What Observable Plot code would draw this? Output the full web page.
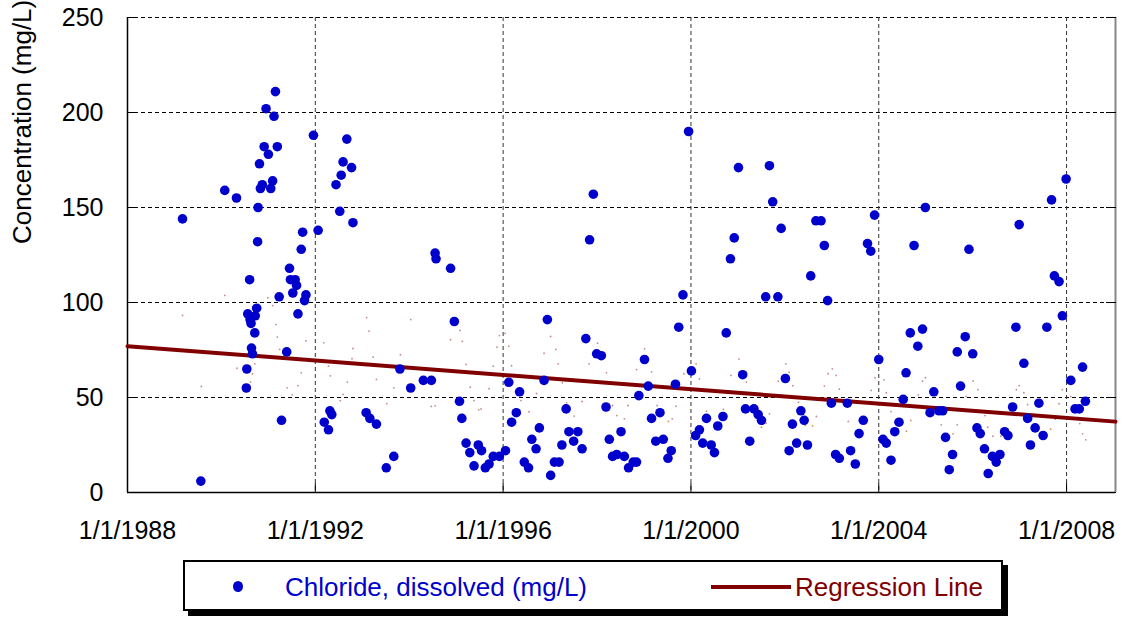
<!DOCTYPE html>
<html><head><meta charset="utf-8">
<script src="https://cdn.jsdelivr.net/npm/d3@7"></script>
<script src="https://cdn.jsdelivr.net/npm/@observablehq/plot@0.6"></script>
<style>
body{margin:0;background:#fff;font-family:Arial,"Liberation Sans",sans-serif;}
#chart{position:absolute;left:0;top:0;}
#legend{position:absolute;left:183px;top:560px;width:816px;height:47px;border:2px solid #000;box-shadow:5px 5px 0 #000;background:#fff;}
#legend .it{position:absolute;white-space:nowrap;font-size:26px;line-height:30px;top:10px;}
</style></head><body>
<div id="chart"></div>
<div id="legend"></div>
<script>
// Sample dates as decimal years and chloride values (mg/L)
const sampleYears = [1989.17,1989.56,1990.07,1990.32,1990.53,1990.54,1990.56,1990.60,1990.61,1990.63,1990.64,1990.66,1990.71,1990.72,1990.75,1990.77,1990.78,1990.81,1990.83,1990.87,1990.91,1990.95,1991.00,1991.05,1991.09,1991.12,1991.15,1991.19,1991.23,1991.28,1991.39,1991.45,1991.47,1991.52,1991.57,1991.60,1991.63,1991.70,1991.73,1991.77,1991.80,1991.96,1992.06,1992.19,1992.28,1992.31,1992.35,1992.44,1992.52,1992.55,1992.59,1992.67,1992.77,1992.80,1993.08,1993.16,1993.30,1993.51,1993.67,1993.80,1994.03,1994.30,1994.47,1994.55,1994.57,1994.88,1994.96,1995.07,1995.12,1995.21,1995.29,1995.38,1995.47,1995.54,1995.62,1995.70,1995.79,1995.92,1996.05,1996.12,1996.18,1996.28,1996.35,1996.45,1996.54,1996.61,1996.70,1996.77,1996.87,1996.94,1997.01,1997.09,1997.19,1997.25,1997.34,1997.40,1997.50,1997.59,1997.68,1997.76,1997.84,1997.92,1997.99,1998.09,1998.19,1998.26,1998.33,1998.42,1998.51,1998.58,1998.67,1998.77,1998.84,1998.89,1999.01,1999.09,1999.16,1999.25,1999.34,1999.41,1999.51,1999.58,1999.67,1999.74,1999.83,1999.95,2000.01,2000.10,2000.18,2000.25,2000.33,2000.43,2000.50,2000.57,2000.68,2000.75,2000.84,2000.92,2001.01,2001.10,2001.16,2001.25,2001.34,2001.43,2001.50,2001.59,2001.67,2001.74,2001.85,2001.92,2002.01,2002.09,2002.16,2002.25,2002.34,2002.41,2002.48,2002.55,2002.66,2002.77,2002.84,2002.91,2002.99,2003.08,2003.16,2003.33,2003.40,2003.50,2003.58,2003.67,2003.76,2003.83,2003.91,2004.00,2004.09,2004.16,2004.26,2004.34,2004.43,2004.52,2004.58,2004.67,2004.75,2004.83,2004.93,2004.99,2005.09,2005.17,2005.28,2005.36,2005.42,2005.50,2005.57,2005.67,2005.74,2005.84,2005.92,2006.00,2006.09,2006.16,2006.25,2006.33,2006.42,2006.50,2006.58,2006.68,2006.75,2006.85,2006.92,2006.99,2007.09,2007.17,2007.23,2007.33,2007.41,2007.50,2007.58,2007.68,2007.74,2007.84,2007.91,2007.99,2008.09,2008.18,2008.27,2008.34,2008.40];
const chloride = [144,6,159,155,55,65,94,112,91,89,76,73,84,93,97,132,150,173,160,162,182,202,178,160,164,198,211,182,103,38,74,118,112,105,112,109,94,128,137,101,104,188,138,37,33,43,41,162,148,167,174,186,171,142,42,39,36,13,19,65,55,59,59,126,123,118,90,48,39,26,21,14,25,22,13,15,19,19,22,58,37,42,53,16,13,28,23,34,59,91,9,16,16,25,44,32,27,32,23,81,133,157,73,72,45,28,19,20,32,19,13,16,16,51,70,56,39,27,42,28,18,22,57,87,104,190,64,30,33,26,39,25,21,35,40,84,123,134,171,62,44,27,44,41,38,103,172,153,103,139,60,22,36,26,43,38,25,114,143,143,130,101,47,20,18,47,22,15,31,38,131,127,146,70,28,26,17,32,37,49,63,84,130,77,86,150,42,53,43,43,29,12,20,74,56,82,128,73,34,31,23,10,19,16,20,32,30,45,87,141,68,39,25,34,47,30,87,154,114,111,93,165,59,44,44,66,48];

// Faint secondary specks (decimal year, value)
const speckYears = [1990.07,1989.17,1990.99,1991.09,1991.16,1991.19,1991.80,1992.18,1992.80,1991.24,1990.71,1990.66,1990.62,1989.57,1991.40,1991.63,1991.51,1992.28,1992.32,1992.68,1992.59,1991.70,1992.00,1990.33,1993.09,1993.14,1994.03,1993.23,1992.78,1993.81,1993.30,1993.67,1993.52,1992.53,1994.88,1995.08,1995.13,1995.21,1995.30,1994.47,1994.55,1995.38,1995.48,1996.04,1995.92,1996.12,1995.87,1997.01,1996.87,1997.12,1997.17,1998.01,1997.83,1998.20,1996.18,1995.79,1996.71,1997.26,1997.35,1997.68,1997.51,1998.33,1998.42,1998.58,1998.66,1998.84,1995.70,1995.53,1996.38,1996.55,1999.01,1999.16,2000.01,2000.11,1999.85,2000.18,2001.02,2001.18,2000.85,2002.02,2002.09,2001.86,2002.17,1999.28,1999.60,1999.68,1999.52,2000.33,2000.69,2001.67,2001.60,2001.50,2002.43,2002.29,2003.01,2003.09,2002.92,2002.84,2003.16,2003.92,2004.11,2003.84,2004.16,2004.99,2004.93,2004.84,2002.67,2002.59,2003.35,2004.26,2004.68,2004.59,2005.33,2005.67,2005.44,2005.58,2006.01,2006.11,2005.86,2006.99,2006.93,2007.09,2007.17,2007.91,2007.84,2008.09,2007.76,2007.66,2006.26,2006.32,2006.43,2006.60,2008.28,2008.34,2008.41];
const speckValues = [103.7,93.2,102.5,98.4,88.4,81.8,79.8,78.8,75.8,75.3,67.7,62.5,58.1,55.8,55.1,56.3,51.4,66.5,61.4,58.1,51.6,63.0,98.1,65.4,92,84.9,91,71.2,70.4,72.5,59.5,55.1,46.8,48.4,80.4,85.3,79.5,67.4,55.4,45.3,45.6,48.4,43.5,83.8,82.6,77.0,76.5,82.1,73.3,75.3,67.7,78.6,67.7,63.0,66.7,66.5,52.1,57.7,47.2,47.9,40.2,45.8,40.5,38.8,45.8,64.7,54.6,44.0,48.4,42.5,75.6,63.5,73.0,67.7,62.5,59.8,70.2,58.1,61.6,67.7,63.3,58.6,56.2,45.8,38.8,45.4,37.4,42.8,43.7,41.4,36.5,34.4,35.3,47.5,65.1,61.6,62.5,56.0,54.4,60.4,59.3,53.7,52.5,60.4,58.6,51.4,40.0,35.1,37.4,42.6,37.9,32.3,35.6,35.6,30.9,30.9,58.6,54.1,50.5,56.2,54.1,52.5,46.2,54.1,46.7,50.5,38.6,33.3,40.5,34.4,29.6,29.6,36.3,30.9,27.7];

const regressionYears = [1988.0, 2009.04];
const regressionValues = [77.0, 37.3];

const xDomainYears = [1988.0, 2009.04];
const xTickYears = [1988, 1992, 1996, 2000, 2004, 2008];
const yTicks = [0, 50, 100, 150, 200, 250];

const yTitle = "Concentration (mg/L)";
const seriesName = "Chloride, dissolved (mg/L)";
const regressionName = "Regression Line";
const pointColor = "#0000CC";
const lineColor = "#800000";

function toDate(y) {
  const yr = Math.floor(y);
  const s = Date.UTC(yr, 0, 1), e = Date.UTC(yr + 1, 0, 1);
  return new Date(s + (y - yr) * (e - s));
}

const samples = sampleYears.map((y, i) => ({date: toDate(y), value: chloride[i]}));
const specks = speckYears.map((y, i) => ({date: toDate(y), value: speckValues[i]}));
const regression = regressionYears.map((y, i) => ({date: toDate(y), value: regressionValues[i]}));
const xDomain = xDomainYears.map(toDate);
const xTicks = xTickYears.map(y => new Date(Date.UTC(y, 0, 1)));

const plot = Plot.plot({
  width: 1123, height: 552,
  marginLeft: 127, marginRight: 8, marginTop: 17, marginBottom: 60,
  style: {fontFamily: "Arial, 'Liberation Sans', sans-serif", background: "#fff", overflow: "visible", color: "#000"},
  x: {type: "utc", domain: xDomain},
  y: {domain: [0, 250]},
  marks: [
    Plot.gridY(yTicks, {stroke: "#000", strokeOpacity: 1, strokeDasharray: "4,3"}),
    Plot.gridX(xTicks.slice(1), {stroke: "#333", strokeOpacity: 1, strokeDasharray: "4,3"}),
    Plot.ruleY([0], {stroke: "#000", strokeWidth: 1.5}),
    Plot.ruleX([xDomain[0]], {stroke: "#000", strokeWidth: 1.5}),
    Plot.ruleX([xDomain[1]], {stroke: "#888", strokeWidth: 2}),
    Plot.axisY(yTicks, {tickSize: 0, tickPadding: 24, fontSize: 25, label: null}),
    Plot.axisY(yTicks, {tickSize: -10, fill: "none", label: null}),
    Plot.axisY(yTicks, {anchor: "right", tickSize: -10, fill: "none", label: null}),
    Plot.axisX(xTicks, {tickSize: 0, tickPadding: 29, fontSize: 25, label: null, tickFormat: d => `1/1/${d.getUTCFullYear()}`}),
    Plot.axisX(xTicks, {tickSize: -9, fill: "none", label: null}),
    Plot.text([yTitle], {frameAnchor: "left", rotate: -90, dx: -105, dy: -11, fontSize: 26, text: d => d, fill: "#000"}),
    Plot.dot(specks, {x: "date", y: "value", r: 0.9, fill: "#a04040", fillOpacity: 0.6}),
    Plot.line(regression, {x: "date", y: "value", stroke: lineColor, strokeWidth: 4}),
    Plot.dot(samples, {x: "date", y: "value", r: 4.8, fill: pointColor})
  ]
});
document.getElementById("chart").appendChild(plot);

// Legend
const lg = document.getElementById("legend");
lg.innerHTML = `
  <span style="position:absolute;left:48px;top:19px;width:10px;height:11px;border-radius:50%;background:${pointColor}"></span>
  <span class="it" style="left:100px;color:${pointColor}">${seriesName}</span>
  <span style="position:absolute;left:526px;top:23px;width:80px;height:4px;background:${lineColor}"></span>
  <span class="it" style="left:610px;color:${lineColor}">${regressionName}</span>`;
</script>
</body></html>
